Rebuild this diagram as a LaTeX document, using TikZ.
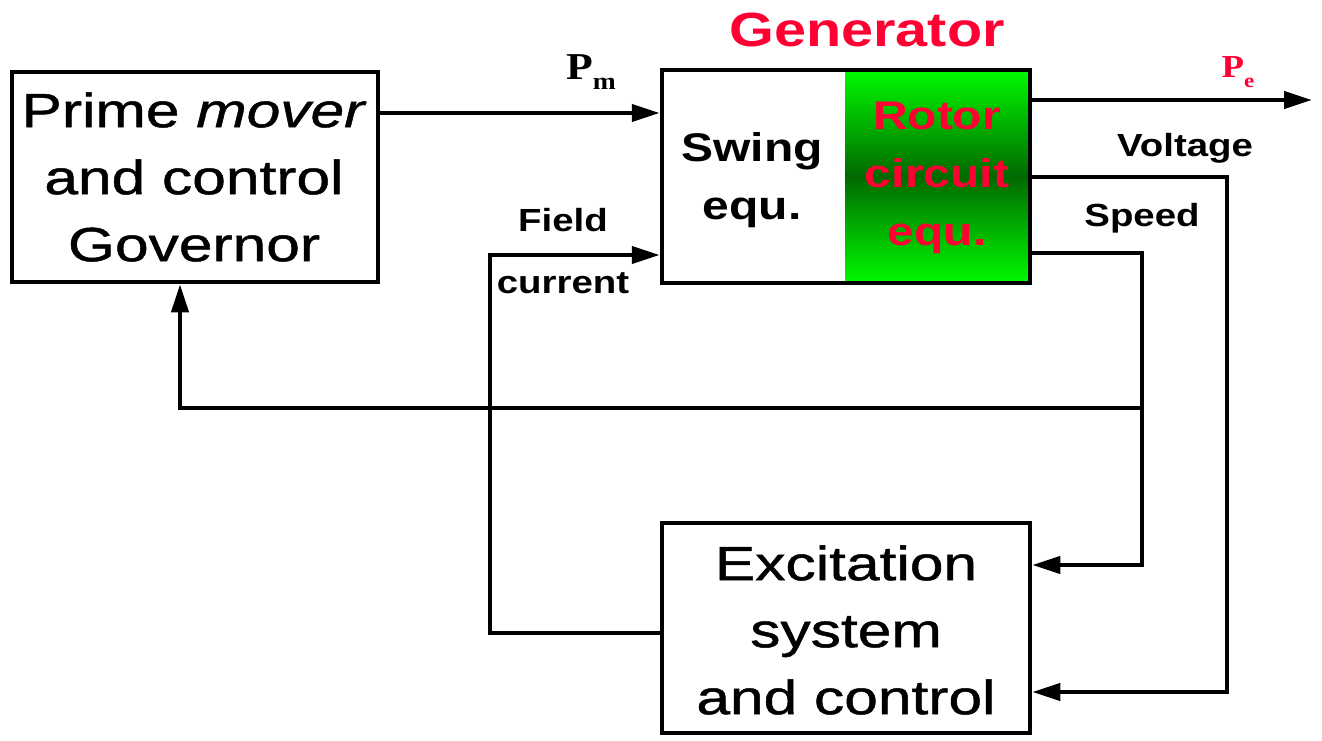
\documentclass[tikz,border=0pt]{standalone}
\usepackage{fontspec}
\setmainfont{Liberation Sans}[FakeStretch=1.2]
\newfontfamily\bigfont{Liberation Sans}[FakeStretch=1.26,FakeBold=1]
\newfontfamily\tnr{Liberation Serif}[FakeStretch=1.15]
\usetikzlibrary{arrows.meta}
\definecolor{genred}{RGB}{255,0,51}
\definecolor{brightgreen}{RGB}{0,250,0}
\definecolor{deepgreen}{RGB}{0,105,0}
\begin{document}
\begin{tikzpicture}[x=1pt,y=-1pt,
  box/.style={draw=black,line width=4.5pt,inner sep=0pt},
  conn/.style={line width=4pt},
  arr/.style={conn,-{Triangle[length=28pt,width=17pt]}},
  bigtext/.style={font=\bigfont\fontsize{48}{67}\selectfont,align=center,inner sep=0pt},
  midtext/.style={font=\fontsize{40}{58}\selectfont\bfseries,align=center,inner sep=0pt},
  lbl/.style={font=\fontsize{32}{32}\selectfont\bfseries,inner sep=0pt},
]
\useasboundingbox (0,0) rectangle (1322,740);
% green part of generator
\fill[top color=brightgreen,bottom color=brightgreen,middle color=deepgreen] (845,70) rectangle (1030,283);
% boxes
\node[box,minimum width=366pt,minimum height=210pt] (pm) at (195,177) {};
\node[box,minimum width=368pt,minimum height=213pt] (gen) at (846,176.5) {};
\node[box,minimum width=368pt,minimum height=210pt] (exc) at (846,628) {};
% texts
\node[bigtext] (pmtxt) at (194,177) {Prime \textit{mover}\\and control\\Governor};
\node[bigtext] (exctxt) at (846,630) {Excitation\\system\\and control};
\node[midtext] (swing) at (752,180) {Swing\\equ.};
\node[midtext,text=genred] (rotor) at (937,178) {Rotor\\circuit\\equ.};
\node[font=\fontsize{48}{48}\selectfont\bfseries,text=genred,inner sep=0pt] (gentitle) at (867,30) {Generator};
% labels
\node[font=\tnr\bfseries\fontsize{38}{38}\selectfont,inner sep=0pt] (pmlbl) at (591,72) {P\raisebox{-10pt}{\fontsize{24}{24}\selectfont m}};
\node[font=\tnr\bfseries\fontsize{32}{32}\selectfont,inner sep=0pt,text=genred] (pelbl) at (1238,72) {P\raisebox{-10pt}{\fontsize{20}{20}\selectfont e}};
\node[lbl] (voltlbl) at (1185,148) {Voltage};
\node[lbl] (speedlbl) at (1142,218) {Speed};
\node[lbl] (fieldlbl) at (563,220) {Field};
\node[lbl] (curlbl) at (563,283) {current};
% coordinates
\coordinate (vx) at (1227,177);
\coordinate (sx) at (1142,253);
\coordinate (jn) at (1142,408);
\coordinate (fx) at (490,633);
\coordinate (pex) at (1312,100);
% connectors
\draw[arr] (pm.east |- 0,113) -- (gen.west |- 0,113);
\draw[arr] (gen.east |- pex) -- (pex);
\draw[arr] (gen.east |- vx) -- (vx) -- (vx |- 0,692) -- (exc.east |- 0,692);
\draw[arr] (gen.east |- sx) -- (sx) -- (sx |- 0,565) -- (exc.east |- 0,565);
\draw[arr] (jn) -- (180,408) -- (pm.south -| 180,0);
\draw[arr] (exc.west |- fx) -- (fx) -- (fx |- 0,255) -- (gen.west |- 0,255);
\end{tikzpicture}
\end{document}
